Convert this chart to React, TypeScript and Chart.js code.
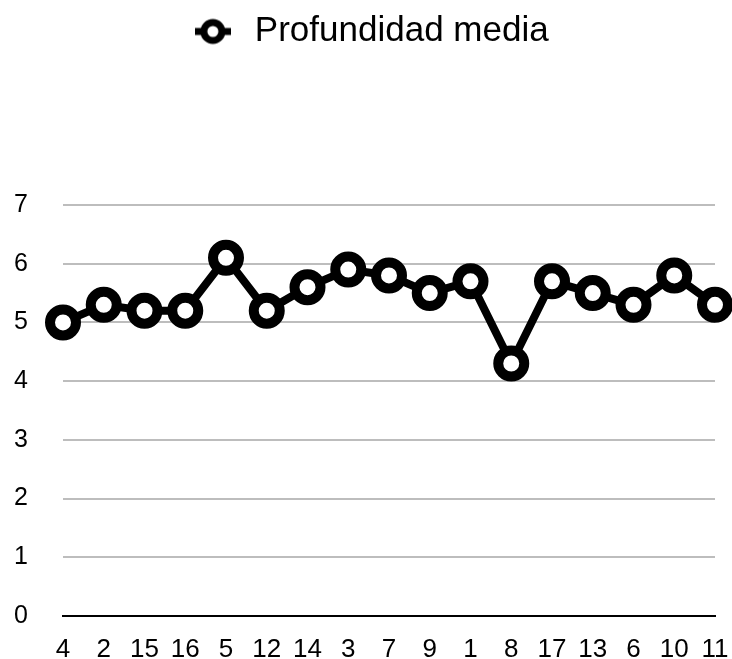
import React, { useEffect, useRef } from "react";
import { Chart, registerables } from "chart.js";

Chart.register(...registerables);

const categories = ["4", "2", "15", "16", "5", "12", "14", "3", "7", "9", "1", "8", "17", "13", "6", "10", "11"];
const profundidadMedia = [5.0, 5.3, 5.2, 5.2, 6.1, 5.2, 5.6, 5.9, 5.8, 5.5, 5.7, 4.3, 5.7, 5.5, 5.3, 5.8, 5.3];
const seriesLabel = "Profundidad media";
const yTicks = [0, 1, 2, 3, 4, 5, 6, 7];

function makeLegendMarker(): HTMLCanvasElement {
  const c = document.createElement("canvas");
  c.width = 36;
  c.height = 28;
  const ctx = c.getContext("2d")!;
  ctx.strokeStyle = "#000";
  ctx.lineWidth = 7;
  ctx.beginPath();
  ctx.moveTo(0, 14);
  ctx.lineTo(36, 14);
  ctx.stroke();
  ctx.beginPath();
  ctx.arc(18, 14, 9, 0, Math.PI * 2);
  ctx.fillStyle = "#fff";
  ctx.fill();
  ctx.lineWidth = 7;
  ctx.stroke();
  return c;
}

export default function App() {
  const ref = useRef<HTMLCanvasElement | null>(null);

  useEffect(() => {
    document.body.style.margin = "0";
    if (!ref.current) return;
    const marker = makeLegendMarker();
    const legendSpacer = {
      id: "legendSpacer",
      beforeInit(chart: any) {
        if (!chart.legend) return;
        const origFit = chart.legend.fit;
        chart.legend.fit = function () {
          origFit.call(this);
          this.height += 146;
        };
      },
      afterLayout(chart: any) {
        if (!chart.legend) return;
        chart.legend.left += 7;
        chart.legend.right += 7;
      },
    };
    const font = "Liberation Sans, Arial, sans-serif";
    const chart = new Chart(ref.current, {
      type: "line",
      data: {
        labels: categories,
        datasets: [
          {
            label: seriesLabel,
            data: profundidadMedia,
            borderColor: "#000",
            borderWidth: 8,
            backgroundColor: "#fff",
            pointBackgroundColor: "#fff",
            pointBorderColor: "#000",
            pointBorderWidth: 10,
            pointRadius: 13,
            pointHoverRadius: 13,
            tension: 0,
            clip: false as any,
          },
        ],
      },
      plugins: [legendSpacer],
      options: {
        animation: false,
        responsive: false,
        layout: { autoPadding: false, padding: { left: 8, right: 17, top: 10, bottom: 0 } },
        plugins: {
          legend: {
            display: true,
            position: "top",
            labels: {
              usePointStyle: true,
              pointStyle: marker as any,
              pointStyleWidth: 49,
              boxHeight: 28,
              color: "#000",
              padding: 4,
              font: { family: font, size: 35 },
            },
          },
          tooltip: { enabled: false },
        },
        scales: {
          x: {
            offset: false,
            grid: { display: false, drawTicks: false },
            border: { display: true, color: "#000", width: 2 },
            ticks: {
              color: "#000",
              padding: 18,
              autoSkip: false,
              maxRotation: 0,
              font: { family: font, size: 26 },
            },
            afterFit: (scale: any) => {
              scale.height = 43;
              scale.paddingLeft = 0;
              scale.paddingRight = 0;
            },
          },
          y: {
            min: 0,
            max: 7,
            afterBuildTicks: (scale: any) => {
              scale.ticks = yTicks.map((v) => ({ value: v }));
            },
            grid: { color: "#bdbdbd", lineWidth: 2, drawTicks: false },
            border: { display: false },
            ticks: {
              color: "#000",
              padding: 35,
              font: { family: font, size: 25 },
            },
            afterFit: (scale: any) => {
              scale.width = 55;
              scale.paddingTop = 0;
              scale.paddingBottom = 0;
            },
          },
        },
      },
    });
    return () => chart.destroy();
  }, []);

  return <canvas ref={ref} width={732} height={659} style={{ display: "block" }} />;
}
